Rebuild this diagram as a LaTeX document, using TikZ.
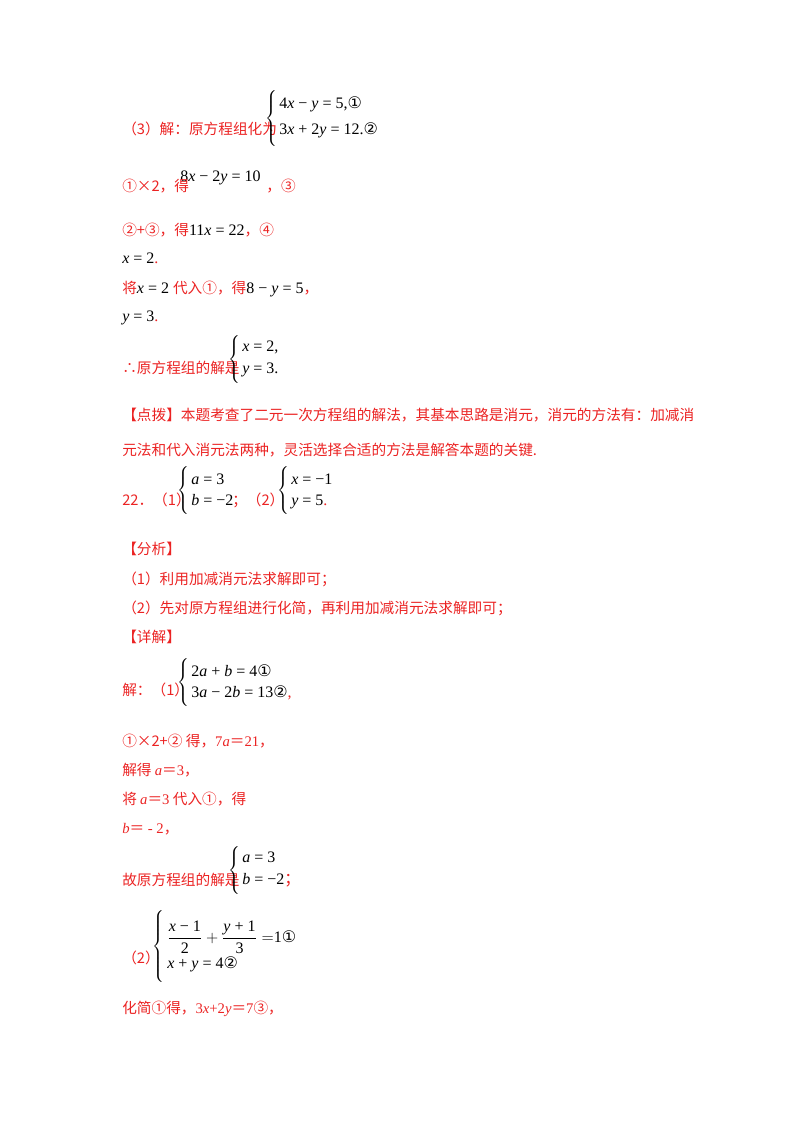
\documentclass[tikz,border=0pt]{standalone}
\usepackage{fontspec}
\setmainfont{Liberation Serif}
\newfontfamily\cjk{Noto Sans CJK SC}
\newfontfamily\cir{DejaVu Sans}
\definecolor{rd}{RGB}{235,35,35}
\newcommand{\vv}[1]{\textit{#1}}
\newcommand{\bk}[1]{\textcolor{black}{#1}}
\newcommand{\cc}[1]{{\cir\fontsize{12}{13}\selectfont #1}}
\newcommand{\sem}{{\cjk ；}}
\tikzset{t/.style={anchor=base west,inner sep=0,text=rd,font=\cjk\fontsize{11}{12}\selectfont},
 m/.style={anchor=base west,inner sep=0,text=black,font=\fontsize{12}{13}\selectfont},
 br/.style={anchor=east,inner sep=0,text=black}}
\newcommand{\brc}[1]{$\left\{\rule{0pt}{#1}\right.\kern-\nulldelimiterspace$}
\begin{document}
\begin{tikzpicture}[x=0.75pt,y=-0.75pt]
\useasboundingbox (0,0) rectangle (800,1132);
% (3)
\node[t] (a1) at (122,134) {（3）解：原方程组化为};
\node[br] (b1) at (278,118) {\brc{23pt}};
\node[m] (a2) at (279,108) {4\vv{x} − \vv{y} = 5,\cc{①}};
\node[m] (a3) at (279,134) {3\vv{x} + 2\vv{y} = 12.\cc{②}};
\node[m] (a4) at (180,181) {8\vv{x} − 2\vv{y} = 10};
\node[t] (a5) at (122,191) {①×2，得\hspace{58pt}，③};
\node[t] (a6) at (122,235) {②+③，得\bk{\fontsize{12}{13}\selectfont\rmfamily 11\vv{x} = 22}，④};
\node[m] (a7) at (122,263) {\vv{x} = 2\textcolor{rd}{ .}};
\node[t] (a8) at (122,293) {将\bk{\rmfamily\fontsize{12}{13}\selectfont \vv{x} = 2 }代入①，得\bk{\rmfamily\fontsize{12}{13}\selectfont 8 − \vv{y} = 5}，};
\node[m] (a9) at (122,321) {\vv{y} = 3\textcolor{rd}{ .}};
\node[t] (a10) at (122,373) {∴原方程组的解是};
\node[br] (b2) at (241,358) {\brc{22pt}};
\node[m] (a11) at (242,351) {\vv{x} = 2,};
\node[m] (a12) at (242,373) {\vv{y} = 3.};
% 点拨
\node[t] (p1) at (122,420) {【点拨】本题考查了二元一次方程组的解法，其基本思路是消元，消元的方法有：加减消};
\node[t] (p2) at (122,455) {元法和代入消元法两种，灵活选择合适的方法是解答本题的关键.};
% 22
\node[t] (q1) at (122,505) {22．（1）};
\node[br] (b3) at (190,490) {\brc{20pt}};
\node[m] (q2) at (191,484) {\vv{a} = 3};
\node[m] (q3) at (191,505) {\vv{b} = −2};
\node[t] (q4) at (232,505) {；（2）};
\node[br] (b4) at (290,490) {\brc{20pt}};
\node[m] (q5) at (291,484) {\vv{x} = −1};
\node[m] (q6) at (291,505) {\vv{y} = 5\textcolor{rd}{ .}};
\node[t] (r1) at (122,554) {【分析】};
\node[t] (r2) at (122,584) {（1）利用加减消元法求解即可；};
\node[t] (r3) at (122,613) {（2）先对原方程组进行化简，再利用加减消元法求解即可；};
\node[t] (r4) at (122,642) {【详解】};
\node[t] (s1) at (122,695) {解：（1）};
\node[br] (b5) at (190,682) {\brc{21pt}};
\node[m] (s2) at (191,676) {2\vv{a} + \vv{b} = 4\cc{①}};
\node[m] (s3) at (191,697) {3\vv{a} − 2\vv{b} = 13\cc{②}\textcolor{rd}{ ,}};
\node[t] (s4) at (122,746) {①×2+② 得，\textrm{7\vv{a}}＝\textrm{21}，};
\node[t] (s5) at (122,775) {解得 \textrm{\vv{a}}＝\textrm{3}，};
\node[t] (s6) at (122,804) {将 \textrm{\vv{a}}＝\textrm{3} 代入①，得};
\node[t] (s7) at (122,833) {\textrm{\vv{b}}＝\textrm{ - 2}，};
\node[t] (s8) at (122,885) {故原方程组的解是};
\node[br] (b6) at (241,869) {\brc{22pt}};
\node[m] (s9) at (242,862) {\vv{a} = 3};
\node[m] (s10) at (242,884) {\vv{b} = −2\textcolor{rd}{\sem}};
\node[t] (u1) at (122,963) {（2）};
\node[br] (b7) at (165,945) {\brc{32pt}};
\node[anchor=west,inner sep=0,text=black,font=\fontsize{12}{13}\selectfont] (u2) at (167,937) {$\displaystyle\frac{\textrm{\vv{x} − 1}}{\textrm{2}}+\frac{\textrm{\vv{y} + 1}}{\textrm{3}}=$1\cc{①}};
\node[m] (u3) at (167,968) {\vv{x} + \vv{y} = 4\cc{②}};
\node[t] (u4) at (122,1013) {化简①得，\textrm{3\vv{x}+2\vv{y}}＝\textrm{7}③，};
\end{tikzpicture}
\end{document}
